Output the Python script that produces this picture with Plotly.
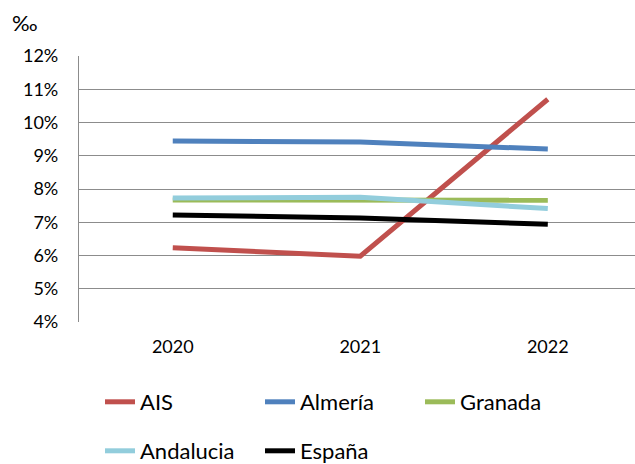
import plotly.graph_objects as go

years = ["2020", "2021", "2022"]
ais = [6.23, 5.98, 10.70]
almeria = [9.44, 9.41, 9.20]
granada = [7.67, 7.67, 7.66]
andalucia = [7.73, 7.75, 7.41]
espana = [7.22, 7.13, 6.94]

series = [
    ("AIS", ais, "#C0504D", "legend"),
    ("Almería", almeria, "#4F81BD", "legend"),
    ("Granada", granada, "#9BBB59", "legend"),
    ("Andalucia", andalucia, "#92CDDC", "legend2"),
    ("España", espana, "#000000", "legend2"),
]

FONT = "Lato"
fig = go.Figure()
for name, vals, col, lg in series:
    fig.add_trace(go.Scatter(x=years, y=vals, name=name, mode="lines",
                             line=dict(color=col, width=5), legend=lg))

L, T, B = 79, 56, 142
W, H = 635, 464
pw = W - L
ph = H - T - B
leg_x = (100 - L) / pw

fig.update_layout(
    width=W, height=H,
    margin=dict(l=L, r=0, t=T, b=B, autoexpand=False),
    paper_bgcolor="white", plot_bgcolor="white",
    font=dict(family=FONT, size=18, color="black"),
    title=dict(text="‰", x=12 / W, xanchor="left", y=(H - 23) / H, yanchor="middle",
               font=dict(family=FONT, size=22, color="black")),
    showlegend=True,
    legend=dict(orientation="h", x=leg_x, xanchor="left", y=(322 - 402) / ph, yanchor="middle",
                entrywidth=115, entrywidthmode="pixels",
                font=dict(family=FONT, size=22, color="black"), bgcolor="rgba(0,0,0,0)"),
    legend2=dict(orientation="h", x=leg_x, xanchor="left", y=(322 - 451) / ph, yanchor="middle",
                 entrywidth=115, entrywidthmode="pixels",
                 font=dict(family=FONT, size=22, color="black"), bgcolor="rgba(0,0,0,0)"),
)

fig.update_xaxes(type="category", range=[-0.5, 2.465], showgrid=False, zeroline=False,
                 showline=False, ticks="", ticklabelstandoff=12, automargin=False,
                 tickfont=dict(family=FONT, size=18, color="black"))
fig.update_yaxes(range=[4, 12], dtick=1, ticksuffix="%", showgrid=True,
                 gridcolor="#8c8c8c", gridwidth=1.3, zeroline=False,
                 showline=True, linecolor="#8c8c8c", linewidth=1.3,
                 ticks="", ticklabelstandoff=16, automargin=False,
                 tickfont=dict(family=FONT, size=18, color="black"))

fig.write_html("out.html", config={"displayModeBar": False},
               post_script="document.body.style.margin='0';document.body.style.overflow='hidden';")
